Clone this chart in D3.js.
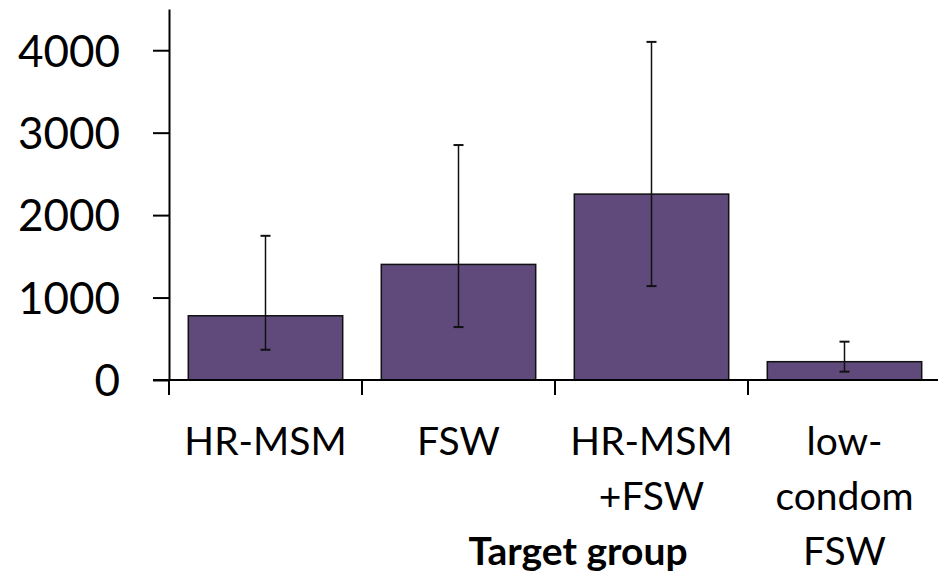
<!DOCTYPE html>
<html>
<head>
<meta charset="utf-8">
<script src="https://cdn.jsdelivr.net/npm/d3@7"></script>
<style>
  html, body { margin: 0; padding: 0; background: #fff; }
  svg { display: block; font-family: Lato, "Open Sans", sans-serif; }
</style>
</head>
<body>
<svg id="chart" width="938" height="580"></svg>
<script>
// Target groups (label lines) and estimated values with uncertainty ranges
const categories = ["HR-MSM", "FSW", "HR-MSM+FSW", "low-condom FSW"];
const categoryLines = [["HR-MSM"], ["FSW"], ["HR-MSM", "+FSW"], ["low-", "condom", "FSW"]];
const values = [779, 1402, 2255, 222];
const lower = [367, 642, 1139, 101];
const upper = [1749, 2850, 4101, 465];
const yTicks = [0, 1000, 2000, 3000, 4000];
const xTitle = "Target group";

const svg = d3.select("#chart");
const barFill = "#5f4a7b";

const x = d3.scaleBand()
  .domain(categories)
  .range([169, 941])
  .paddingInner(0.2)
  .paddingOuter(0.1);

const y = d3.scaleLinear().domain([0, 4500]).range([380, 9]);

// Bars
svg.append("g")
  .selectAll("rect")
  .data(categories)
  .join("rect")
  .attr("x", d => x(d))
  .attr("y", (d, i) => y(values[i]))
  .attr("width", x.bandwidth())
  .attr("height", (d, i) => y(0) - y(values[i]))
  .attr("fill", barFill)
  .attr("stroke", "#111")
  .attr("stroke-width", 1.5);

// Error bars
const err = svg.append("g").attr("stroke", "#111").attr("stroke-width", 1.5);
categories.forEach((c, i) => {
  const cx = x(c) + x.bandwidth() / 2;
  err.append("line").attr("x1", cx).attr("x2", cx).attr("y1", y(upper[i])).attr("y2", y(lower[i]));
  [upper[i], lower[i]].forEach(v => {
    err.append("line").attr("x1", cx - 5).attr("x2", cx + 5).attr("y1", y(v)).attr("y2", y(v)).attr("stroke-width", 2);
  });
});

// Y axis
const yAxis = svg.append("g")
  .attr("transform", "translate(169,0)")
  .call(d3.axisLeft(y).tickValues(yTicks).tickFormat(d3.format("d")).tickSize(16).tickSizeOuter(0).tickPadding(33));
yAxis.select(".domain").attr("stroke", "#000").attr("stroke-width", 2);
yAxis.selectAll(".tick line").attr("stroke", "#000").attr("stroke-width", 2);
yAxis.selectAll(".tick text")
  .attr("fill", "#000")
  .style("font-family", "Lato, 'Open Sans', sans-serif")
  .style("font-size", "44px")
  .attr("dy", "0.36em");

// X axis line with ticks between categories
const xAxis = svg.append("g");
xAxis.append("line")
  .attr("x1", 153).attr("x2", 938)
  .attr("y1", y(0)).attr("y2", y(0))
  .attr("stroke", "#000").attr("stroke-width", 2);
const step = x.step();
xAxis.selectAll("line.sep")
  .data(categories)
  .join("line")
  .attr("class", "sep")
  .attr("x1", d => x(d) - step * x.paddingInner() / 2)
  .attr("x2", d => x(d) - step * x.paddingInner() / 2)
  .attr("y1", y(0)).attr("y2", y(0) + 15)
  .attr("stroke", "#000").attr("stroke-width", 2);

// Category labels, possibly wrapped on several lines
const labels = xAxis.selectAll("text.cat")
  .data(categories)
  .join("text")
  .attr("class", "cat")
  .attr("text-anchor", "middle")
  .attr("font-size", 39)
  .attr("fill", "#000");
labels.each(function(d, i) {
  const t = d3.select(this);
  categoryLines[i].forEach((line, j) => {
    t.append("tspan")
      .attr("x", x(d) + x.bandwidth() / 2)
      .attr("y", 455 + j * 55)
      .text(line);
  });
});

// Axis title
svg.append("text")
  .attr("x", 578)
  .attr("y", 565)
  .attr("text-anchor", "middle")
  .attr("font-size", 39)
  .attr("font-weight", "bold")
  .attr("fill", "#000")
  .text(xTitle);
</script>
</body>
</html>
